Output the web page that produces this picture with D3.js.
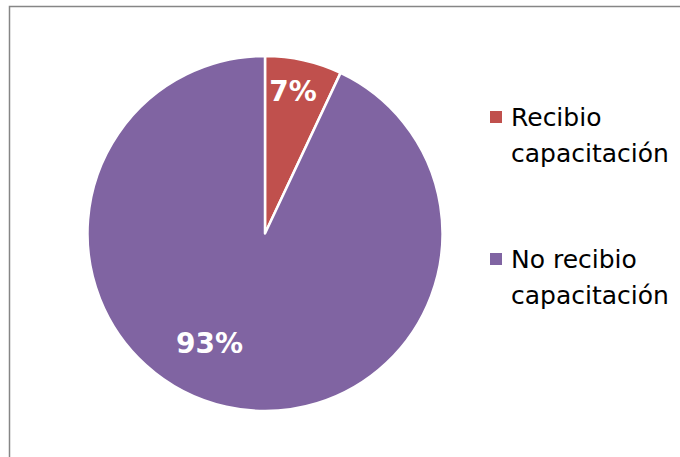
<!DOCTYPE html>
<html><head><meta charset="utf-8">
<script src="https://cdn.jsdelivr.net/npm/d3@7"></script>
<style>html,body{margin:0;padding:0;background:#fff;}svg{display:block;}</style>
</head><body>
<svg id="c" width="680" height="457"></svg>
<script>
const categories = ["Recibio capacitación", "No recibio capacitación"];
const legendLines = [["Recibio", "capacitación"], ["No recibio", "capacitación"]];
const values = [7, 93];
const labels = ["7%", "93%"];
const colors = ["#C0504D", "#8064A2"];

const svg = d3.select("#c");
svg.append("rect").attr("x", 9.5).attr("y", 6.5).attr("width", 700).attr("height", 470)
  .attr("fill", "#fff").attr("stroke", "#868686").attr("stroke-width", 1.5);

const cx = 265, cy = 233.5, r = 177.5;
const pie = d3.pie().sort(null)(values);
const arc = d3.arc().innerRadius(0).outerRadius(r);
const g = svg.append("g").attr("transform", `translate(${cx},${cy})`);
g.selectAll("path").data(pie).join("path")
  .attr("d", arc).attr("fill", (d, i) => colors[i])
  .attr("stroke", "#fff").attr("stroke-width", 2.5).attr("stroke-linejoin", "round");

const labelPos = [[28, -132.5], [-55.5, 119.5]];
g.selectAll("text.lbl").data(pie).join("text").attr("class", "lbl")
  .attr("x", (d, i) => labelPos[i][0]).attr("y", (d, i) => labelPos[i][1])
  .attr("text-anchor", "middle")
  .attr("font-family", "Verdana, 'DejaVu Sans', sans-serif")
  .attr("font-weight", "bold").attr("font-size", 28).attr("fill", "#fff")
  .text((d, i) => labels[i]);

const lg = svg.append("g");
const ly = [126, 268];
categories.forEach((c, i) => {
  lg.append("rect").attr("x", 490).attr("y", ly[i] - 15).attr("width", 12).attr("height", 12)
    .attr("fill", colors[i]);
  const t = lg.append("text").attr("x", 511).attr("y", ly[i])
    .attr("font-family", "Tahoma, 'DejaVu Sans', sans-serif").attr("font-size", 25).attr("fill", "#000");
  legendLines[i].forEach((s, j) => {
    t.append("tspan").attr("x", 511).attr("dy", j === 0 ? 0 : 36).text(s);
  });
});
</script>
</body></html>
